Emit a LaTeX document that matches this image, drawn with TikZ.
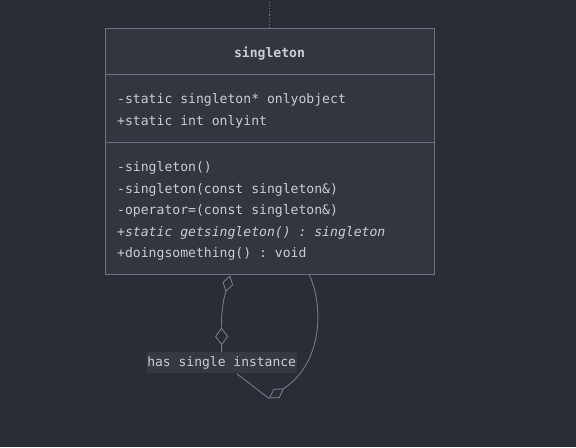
\documentclass[tikz,border=0pt]{standalone}
\usepackage{fontspec}
\setmonofont{DejaVu Sans Mono}
\usepackage{tikz}
\usetikzlibrary{arrows.meta, positioning}
\usepackage{xcolor}
\definecolor{bgdark}{HTML}{2A2D35}
\definecolor{boxfill}{HTML}{33363E}
\definecolor{boxline}{HTML}{6C7284}
\definecolor{edgeline}{HTML}{737A8C}
\definecolor{lblfill}{HTML}{363941}
\definecolor{txt}{HTML}{C8CDD6}

\begin{document}
\begin{tikzpicture}[
    x=1pt, y=-1pt,
    classpart/.style={rectangle, draw=boxline, line width=1pt, fill=boxfill,
                minimum width=329pt, inner sep=0pt, outer sep=0pt},
    membertxt/.style={anchor=west, align=left, inner sep=0pt, text=txt,
                font=\ttfamily\fontsize{13.1}{21.5}\selectfont},
    headtxt/.style={inner sep=0pt, text=txt,
                font=\ttfamily\bfseries\fontsize{13.1}{16}\selectfont},
    edgelbl/.style={rectangle, fill=lblfill, inner xsep=0.5pt, inner ysep=0pt,
                minimum height=21pt, text=txt,
                font=\ttfamily\fontsize{13}{16}\selectfont},
    edge/.style={draw=edgeline, line width=0.9pt},
]
\fill[bgdark] (0,0) rectangle (576,447);
% class box
\node[classpart, minimum height=46pt] (head) at (269.5,51) {};
\node[classpart, minimum height=68pt, below=0pt of head] (attrs) {};
\node[classpart, minimum height=132pt, below=0pt of attrs] (ops) {};
\node[headtxt] (headname) at (269.5,53) {singleton};
\node[membertxt] (attrtxt) at (117,110.5)
    {-static singleton* onlyobject\\+static int onlyint};
\node[membertxt] (optxt) at (117,210.5)
    {-singleton()\\-singleton(const singleton\&)\\-operator=(const singleton\&)\\
     \textit{+static getsingleton() : singleton}\\+doingsomething() : void};
% relation off the top
\coordinate (offtop) at (269.5,0);
\draw[edge, dash pattern=on 1.2pt off 2pt] (head.north) -- (offtop);
% self relation
\node[edgelbl] (lbl) at (221.7,362.5) {has single instance};
\coordinate (aggA) at (230,275);
\coordinate (midtip) at (221.5,327);
\coordinate (aggC) at (269,398);
\coordinate (aggB) at (309,274);
\draw[edge, -{Diamond[open, length=18pt, width=13pt]}] (lbl.north) -- (midtip);
\draw[edge, -{Diamond[open, length=17pt, width=11pt]}]
    (midtip) .. controls (221.5,306) and (224,298) .. (aggA);
\draw[edge] ([xshift=15pt]lbl.south) -- (aggC);
\draw[edge, {Diamond[open, length=18pt, width=11pt]}-]
    (aggC) .. controls (326,360) and (322,300) .. (aggB);
\end{tikzpicture}
\end{document}
